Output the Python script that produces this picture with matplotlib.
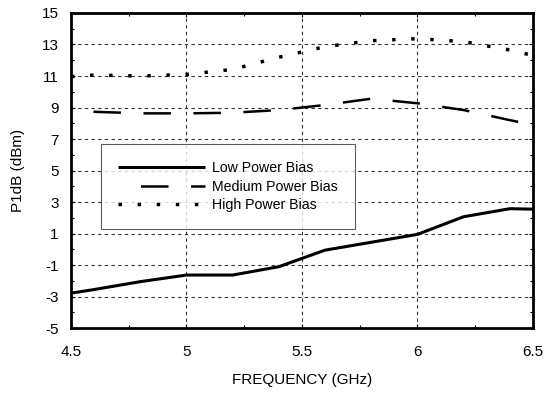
import matplotlib.pyplot as plt
from matplotlib.ticker import MultipleLocator

plt.rcParams['font.family'] = ['Liberation Sans', 'DejaVu Sans']
plt.rcParams['axes.unicode_minus'] = False

freq = [4.5, 4.6, 4.8, 5.0, 5.2, 5.4, 5.6, 5.8, 6.0, 6.2, 6.4, 6.5]
low = [-2.78, -2.55, -2.05, -1.63, -1.63, -1.1, -0.05, 0.45, 0.95, 2.07, 2.58, 2.55]
medium = [8.75, 8.73, 8.63, 8.63, 8.67, 8.84, 9.16, 9.56, 9.27, 8.84, 8.2, 7.9]
high = [10.96, 11.06, 11.0, 11.1, 11.42, 12.19, 12.86, 13.24, 13.37, 13.18, 12.65, 12.3]
xticks = [4.5, 5.0, 5.5, 6.0, 6.5]
xlabels = ['4.5', '5', '5.5', '6', '6.5']

fig = plt.figure(figsize=(5.46, 3.93), dpi=100)
ax = fig.add_axes([0.130, 0.165, 0.846, 0.802])

ax.plot(freq, low, color='black', lw=2.2, solid_capstyle='butt', label='Low Power Bias')
ax.plot(freq, medium, color='black', lw=1.8, linestyle=(11, (11, 9)), label='Medium Power Bias')
ax.plot(freq, high, color='black', lw=2.5, linestyle=(0, (1, 4.5)), label='High Power Bias')

ax.set_xlim(4.5, 6.5)
ax.set_ylim(-5, 15)
ax.set_xticks(xticks)
ax.set_xticklabels(xlabels)
ax.xaxis.set_minor_locator(MultipleLocator(0.25))
ax.set_yticks(range(-5, 16, 2))
ax.yaxis.set_minor_locator(MultipleLocator(1))
ax.tick_params(which='both', direction='in', top=True, right=True, labelsize=11, width=0.8)
ax.tick_params(which='major', length=3)
ax.tick_params(which='minor', length=2.5)
ax.tick_params(axis='x', pad=12)
ax.tick_params(axis='y', pad=9)
for s in ax.spines.values():
    s.set_linewidth(2)

for gx in [5.0, 5.5, 6.0]:
    ax.axvline(gx, color='#333333', lw=0.8, linestyle=(0, (3, 3)), zorder=0)
for gy in range(-3, 14, 2):
    ax.axhline(gy, color='#333333', lw=0.8, linestyle=(0, (3, 3)), zorder=0)

ax.set_xlabel('FREQUENCY (GHz)', fontsize=11, labelpad=10)
ax.set_ylabel('P1dB (dBm)', fontsize=11, labelpad=12)

leg = ax.legend(loc='upper left', bbox_to_anchor=(0.064, 0.583), fontsize=10.2,
                frameon=True, fancybox=False, handlelength=6.2, handletextpad=0.45,
                labelspacing=0.3, borderpad=1.2, borderaxespad=0)
leg.get_frame().set_edgecolor('#333333')
leg.get_frame().set_linewidth(0.8)

fig.savefig('out.png', dpi=100)
